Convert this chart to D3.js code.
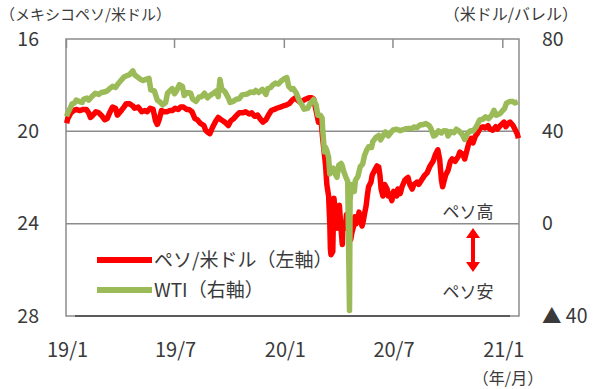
<!DOCTYPE html>
<html>
<head>
<meta charset="utf-8">
<script src="https://cdn.jsdelivr.net/npm/d3@7"></script>
<style>
  body { margin: 0; background: #fff; }
  svg text { font-family: "Noto Sans CJK JP", "Noto Sans", sans-serif; fill: #3a3a3a; }
</style>
</head>
<body>
<div id="chart"></div>
<script>
// peso per US dollar (left axis, inverted)
const pesoData = [
  ["2019-01-02",19.65],["2019-01-04",19.45],["2019-01-09",19.2],["2019-01-14",19.1],["2019-01-18",19.05],
  ["2019-01-24",19.1],["2019-01-30",19.05],["2019-02-04",19.05],["2019-02-08",19.2],["2019-02-11",19.4],
  ["2019-02-15",19.3],["2019-02-20",19.15],["2019-02-25",19.2],["2019-03-01",19.3],["2019-03-07",19.5],
  ["2019-03-11",19.45],["2019-03-15",19.2],["2019-03-20",18.95],["2019-03-25",19.0],["2019-03-28",19.3],
  ["2019-04-02",19.15],["2019-04-08",18.95],["2019-04-12",18.8],["2019-04-17",18.8],["2019-04-23",18.9],
  ["2019-04-26",19.0],["2019-05-02",18.95],["2019-05-08",19.15],["2019-05-13",19.1],["2019-05-17",19.15],
  ["2019-05-22",19.0],["2019-05-27",19.05],["2019-05-31",19.55],["2019-06-03",19.7],["2019-06-06",19.5],
  ["2019-06-10",19.1],["2019-06-14",19.15],["2019-06-19",19.15],["2019-06-24",19.1],["2019-06-28",19.1],
  ["2019-07-03",19.0],["2019-07-08",19.05],["2019-07-12",18.95],["2019-07-17",18.95],["2019-07-22",19.05],
  ["2019-07-26",19.05],["2019-07-31",19.15],["2019-08-05",19.45],["2019-08-09",19.5],["2019-08-14",19.65],
  ["2019-08-20",19.75],["2019-08-23",19.95],["2019-08-27",20.05],["2019-08-30",20.1],["2019-09-04",19.8],
  ["2019-09-09",19.55],["2019-09-13",19.4],["2019-09-18",19.5],["2019-09-24",19.6],["2019-09-30",19.75],
  ["2019-10-04",19.55],["2019-10-09",19.45],["2019-10-14",19.3],["2019-10-18",19.2],["2019-10-24",19.2],
  ["2019-10-29",19.15],["2019-11-04",19.25],["2019-11-08",19.2],["2019-11-13",19.35],["2019-11-18",19.3],
  ["2019-11-22",19.45],["2019-11-27",19.6],["2019-12-02",19.5],["2019-12-06",19.3],["2019-12-11",19.1],
  ["2019-12-16",19.05],["2019-12-20",19.0],["2019-12-26",18.95],["2019-12-31",18.9],["2020-01-06",18.85],
  ["2020-01-10",18.8],["2020-01-15",18.65],["2020-01-20",18.55],["2020-01-24",18.65],["2020-01-29",18.75],
  ["2020-02-03",18.65],["2020-02-07",18.6],["2020-02-12",18.55],["2020-02-17",18.55],["2020-02-20",18.6],
  ["2020-02-24",19.1],["2020-02-28",19.6],["2020-03-03",19.4],["2020-03-06",20.3],["2020-03-09",21.0],
  ["2020-03-11",21.5],["2020-03-13",22.3],["2020-03-16",22.8],["2020-03-18",24.0],["2020-03-19",25.1],
  ["2020-03-20",25.35],["2020-03-23",25.2],["2020-03-24",23.8],["2020-03-25",22.9],["2020-03-27",23.5],
  ["2020-03-30",24.2],["2020-04-01",24.0],["2020-04-03",23.2],["2020-04-06",24.3],["2020-04-08",24.9],
  ["2020-04-09",24.0],["2020-04-13",24.2],["2020-04-15",23.6],["2020-04-17",24.1],["2020-04-20",24.2],
  ["2020-04-22",24.7],["2020-04-24",24.4],["2020-04-27",24.1],["2020-04-29",23.7],["2020-05-01",24.0],
  ["2020-05-04",23.8],["2020-05-06",23.5],["2020-05-08",23.8],["2020-05-11",24.1],["2020-05-13",23.9],
  ["2020-05-15",23.6],["2020-05-18",23.2],["2020-05-20",22.75],["2020-05-22",22.4],["2020-05-26",22.2],
  ["2020-05-28",21.9],["2020-06-01",21.7],["2020-06-05",21.5],["2020-06-08",21.55],["2020-06-10",21.9],
  ["2020-06-12",22.5],["2020-06-15",22.8],["2020-06-18",22.3],["2020-06-22",22.5],["2020-06-24",22.8],
  ["2020-06-26",22.7],["2020-06-30",23.0],["2020-07-03",22.6],["2020-07-08",22.8],["2020-07-10",22.5],
  ["2020-07-14",22.7],["2020-07-17",22.4],["2020-07-22",22.1],["2020-07-27",22.0],["2020-07-30",22.3],
  ["2020-08-03",22.5],["2020-08-06",22.3],["2020-08-11",22.2],["2020-08-14",22.3],["2020-08-19",22.1],
  ["2020-08-24",21.9],["2020-08-28",21.8],["2020-09-02",21.5],["2020-09-07",21.3],["2020-09-11",21.0],
  ["2020-09-15",20.8],["2020-09-18",21.2],["2020-09-21",22.1],["2020-09-23",22.4],["2020-09-25",22.2],
  ["2020-09-28",21.9],["2020-10-02",21.7],["2020-10-06",21.3],["2020-10-09",21.2],["2020-10-14",21.3],
  ["2020-10-19",21.1],["2020-10-22",20.9],["2020-10-27",21.0],["2020-10-30",21.2],["2020-11-03",20.8],
  ["2020-11-06",20.5],["2020-11-10",20.3],["2020-11-13",20.5],["2020-11-17",20.2],["2020-11-20",20.1],
  ["2020-11-25",19.85],["2020-11-30",19.8],["2020-12-03",19.85],["2020-12-08",19.75],["2020-12-11",19.9],
  ["2020-12-16",19.95],["2020-12-21",19.8],["2020-12-24",19.9],["2020-12-29",19.75],["2021-01-04",19.6],
  ["2021-01-07",19.8],["2021-01-11",19.65],["2021-01-14",19.6],["2021-01-19",19.75],["2021-01-22",19.9],
  ["2021-01-26",20.1],["2021-01-28",20.3]
];

// WTI, dollars per barrel (right axis)
const wtiData = [
  ["2019-01-02",46.5],["2019-01-04",48],["2019-01-08",50],["2019-01-11",51.8],["2019-01-15",52.3],
  ["2019-01-18",53.5],["2019-01-23",53],["2019-01-28",52.5],["2019-01-31",54],["2019-02-05",54.4],
  ["2019-02-08",53.5],["2019-02-13",55],["2019-02-19",56.5],["2019-02-25",56],["2019-03-01",56.8],
  ["2019-03-06",57],["2019-03-11",57.5],["2019-03-15",58.5],["2019-03-20",59.5],["2019-03-25",59],
  ["2019-03-29",60.5],["2019-04-03",62],["2019-04-08",63.5],["2019-04-12",64],["2019-04-17",64.5],
  ["2019-04-23",66.2],["2019-04-26",64.5],["2019-05-01",63.5],["2019-05-06",62.5],["2019-05-10",62],
  ["2019-05-15",62.5],["2019-05-20",63],["2019-05-23",58],["2019-05-29",57.5],["2019-06-03",53.5],
  ["2019-06-07",52.8],["2019-06-12",51.5],["2019-06-17",52.5],["2019-06-20",56.5],["2019-06-25",57.8],
  ["2019-06-28",58.5],["2019-07-02",56.3],["2019-07-05",57.5],["2019-07-10",60.2],["2019-07-15",59.5],
  ["2019-07-18",55.5],["2019-07-23",56.8],["2019-07-29",56.5],["2019-08-01",54],["2019-08-07",53],
  ["2019-08-12",54.9],["2019-08-16",55],["2019-08-21",56.5],["2019-08-26",54.5],["2019-08-30",55.5],
  ["2019-09-04",56.3],["2019-09-10",57.5],["2019-09-13",55],["2019-09-16",62.5],["2019-09-19",58.3],
  ["2019-09-24",57.3],["2019-09-30",54.5],["2019-10-03",52.5],["2019-10-08",53],["2019-10-14",54],
  ["2019-10-18",54],["2019-10-23",55.8],["2019-10-28",56],["2019-11-01",56.2],["2019-11-06",57],
  ["2019-11-12",56.8],["2019-11-15",57.7],["2019-11-20",56.8],["2019-11-26",58.2],["2019-12-02",56],
  ["2019-12-05",58.5],["2019-12-10",59],["2019-12-13",60],["2019-12-18",60.9],["2019-12-23",60.5],
  ["2019-12-27",61.7],["2020-01-03",63],["2020-01-06",63.3],["2020-01-09",59.5],["2020-01-14",58.2],
  ["2020-01-17",58.5],["2020-01-22",56.5],["2020-01-27",53.2],["2020-01-31",51.6],["2020-02-04",49.6],
  ["2020-02-10",50],["2020-02-14",52],["2020-02-20",53.8],["2020-02-24",51.5],["2020-02-27",47],
  ["2020-03-02",47],["2020-03-05",45.9],["2020-03-06",41.3],["2020-03-09",31.1],["2020-03-11",33],
  ["2020-03-13",31.7],["2020-03-16",28.7],["2020-03-18",21.5],["2020-03-20",22.5],["2020-03-24",24],
  ["2020-03-27",21.5],["2020-03-30",20.1],["2020-04-02",25.3],["2020-04-06",26.1],["2020-04-08",25],
  ["2020-04-10",22.8],["2020-04-14",20.1],["2020-04-17",18.3],["2020-04-20",-37.6],["2020-04-21",10],
  ["2020-04-22",13.8],["2020-04-24",17],["2020-04-28",14],["2020-04-30",18.8],["2020-05-04",20.4],
  ["2020-05-08",24.7],["2020-05-12",25.8],["2020-05-15",29.4],["2020-05-19",32],["2020-05-22",33.3],
  ["2020-05-27",33],["2020-05-29",35.5],["2020-06-03",37.3],["2020-06-08",38.2],["2020-06-11",36.3],
  ["2020-06-16",38.4],["2020-06-19",39.8],["2020-06-24",38],["2020-06-29",39.7],["2020-07-02",40.6],
  ["2020-07-08",40.9],["2020-07-14",40.3],["2020-07-20",40.8],["2020-07-23",41.1],["2020-07-28",41.2],
  ["2020-08-03",41.2],["2020-08-06",41.9],["2020-08-11",41.6],["2020-08-17",42.9],["2020-08-20",42.8],
  ["2020-08-26",43.4],["2020-08-31",42.6],["2020-09-03",41.4],["2020-09-08",38],["2020-09-11",38.3],
  ["2020-09-16",40.2],["2020-09-21",39.3],["2020-09-25",40.3],["2020-09-30",40.2],["2020-10-02",38],
  ["2020-10-07",39.9],["2020-10-12",39.4],["2020-10-16",40.9],["2020-10-21",40],["2020-10-26",38.6],
  ["2020-10-30",36.5],["2020-11-04",39.2],["2020-11-09",40.3],["2020-11-13",40.1],["2020-11-18",41.8],
  ["2020-11-24",44.9],["2020-11-30",45.3],["2020-12-04",46.3],["2020-12-09",45.5],["2020-12-14",46.9],
  ["2020-12-18",49.1],["2020-12-22",47],["2020-12-28",47.6],["2020-12-31",48.5],["2021-01-05",49.9],
  ["2021-01-08",52.2],["2021-01-13",52.9],["2021-01-19",52.9],["2021-01-22",52.3],["2021-01-27",52.8]
];

const leftTicks = [16, 20, 24, 28];
const rightTicks = [80, 40, 0, -40];
const xTicks = ["2019-01-01", "2019-07-01", "2020-01-01", "2020-07-01", "2021-01-01"];
const seriesNames = ["ペソ/米ドル（左軸）", "WTI（右軸）"];
const seriesColors = ["#ff0000", "#9bbb59"];

const W = 600, H = 389;
const plot = { left: 66, right: 519, top: 39, bottom: 316 };
const parse = d3.timeParse("%Y-%m-%d");

const svg = d3.select("#chart").append("svg")
  .attr("width", W)
  .attr("height", H);

const x = d3.scaleTime()
  .domain([parse("2019-01-01"), parse("2021-01-29")])
  .range([plot.left, plot.right]);
const yL = d3.scaleLinear().domain([16, 28]).range([plot.top, plot.bottom]);
const yR = d3.scaleLinear().domain([80, -40]).range([plot.top, plot.bottom]);

// gridlines
svg.append("g")
  .selectAll("line")
  .data([20, 24])
  .enter().append("line")
  .attr("x1", plot.left).attr("x2", plot.right)
  .attr("y1", d => yL(d)).attr("y2", d => yL(d))
  .attr("stroke", "#8c8c8c")
  .attr("stroke-width", 1.5);

// frame
svg.append("rect")
  .attr("x", plot.left).attr("y", plot.top)
  .attr("width", plot.right - plot.left)
  .attr("height", plot.bottom - plot.top)
  .attr("fill", "none")
  .attr("stroke", "#8c8c8c")
  .attr("stroke-width", 1.5);

// inner tick marks along the top edge
const topAxis = svg.append("g")
  .attr("transform", `translate(0,${plot.top})`)
  .call(d3.axisTop(x).tickValues(xTicks.map(parse)).tickSize(-9).tickFormat(""));
topAxis.select(".domain").remove();
topAxis.selectAll("line").attr("stroke", "#8c8c8c").attr("stroke-width", 1.5);

// darker x axis line
svg.append("line")
  .attr("x1", plot.left + 9).attr("x2", plot.right - 9)
  .attr("y1", plot.bottom).attr("y2", plot.bottom)
  .attr("stroke", "#404040")
  .attr("stroke-width", 1.5);

// lines
const line = (yScale) => d3.line()
  .x(d => x(parse(d[0])))
  .y(d => yScale(d[1]));

svg.append("path")
  .datum(pesoData)
  .attr("d", line(yL))
  .attr("fill", "none")
  .attr("stroke", seriesColors[0])
  .attr("stroke-width", 5.5)
  .attr("stroke-linejoin", "round");

svg.append("path")
  .datum(wtiData)
  .attr("d", line(yR))
  .attr("fill", "none")
  .attr("stroke", seriesColors[1])
  .attr("stroke-width", 5.5)
  .attr("stroke-linejoin", "round");

// left axis
const leftAxis = svg.append("g")
  .attr("transform", "translate(39,0)")
  .call(d3.axisLeft(yL).tickValues(leftTicks).tickSize(0).tickPadding(0));
leftAxis.select(".domain").remove();
leftAxis.selectAll("text").style("font-size", "19.5px").attr("fill", "#3a3a3a");

// right axis
const rightAxis = svg.append("g")
  .attr("transform", "translate(542,0)")
  .call(d3.axisRight(yR).tickValues(rightTicks).tickSize(0).tickPadding(0)
    .tickFormat(d => d < 0 ? "▲ " + Math.abs(d) : d));
rightAxis.select(".domain").remove();
rightAxis.selectAll("text").style("font-size", "19.5px").attr("fill", "#3a3a3a");

// bottom axis labels
const bottomAxis = svg.append("g")
  .attr("transform", `translate(1,${plot.bottom})`)
  .call(d3.axisBottom(x).tickValues(xTicks.map(parse)).tickSize(0).tickPadding(27)
    .tickFormat(d3.timeFormat("%y/%-m")));
bottomAxis.select(".domain").remove();
bottomAxis.selectAll("text").style("font-size", "20px").attr("fill", "#3a3a3a");

// unit labels
svg.append("text").attr("x", 0).attr("y", 20)
  .style("font-size", "15px").text("（メキシコペソ/米ドル）");
svg.append("text").attr("x", 578).attr("y", 20)
  .attr("text-anchor", "end")
  .style("font-size", "16px").text("（米ドル/バレル）");
svg.append("text").attr("x", 508).attr("y", 384)
  .attr("text-anchor", "middle")
  .style("font-size", "16px").text("（年/月）");

// legend
const legend = svg.append("g");
seriesNames.forEach((name, i) => {
  const ly = 260 + i * 30;
  legend.append("line")
    .attr("x1", 97).attr("x2", 152)
    .attr("y1", ly).attr("y2", ly)
    .attr("stroke", seriesColors[i])
    .attr("stroke-width", 6);
  legend.append("text")
    .attr("x", 154).attr("y", ly + 7)
    .style("font-size", "19px")
    .text(name);
});

// peso high / low annotation
svg.append("text").attr("x", 468).attr("y", 218)
  .attr("text-anchor", "middle")
  .style("font-size", "17px").text("ペソ高");
svg.append("text").attr("x", 468).attr("y", 298)
  .attr("text-anchor", "middle")
  .style("font-size", "17px").text("ペソ安");

const ax = 473, aTop = 228, aBot = 272;
svg.append("line")
  .attr("x1", ax).attr("x2", ax)
  .attr("y1", aTop + 8).attr("y2", aBot - 8)
  .attr("stroke", "#ff0000")
  .attr("stroke-width", 4);
svg.append("path")
  .attr("d", `M${ax},${aTop} L${ax - 7},${aTop + 10} L${ax + 7},${aTop + 10} Z`)
  .attr("fill", "#ff0000");
svg.append("path")
  .attr("d", `M${ax},${aBot} L${ax - 7},${aBot - 10} L${ax + 7},${aBot - 10} Z`)
  .attr("fill", "#ff0000");
</script>
</body>
</html>
